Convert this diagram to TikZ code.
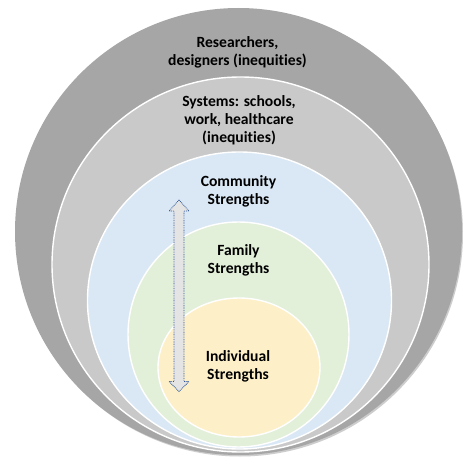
\documentclass[tikz,border=0pt]{standalone}
\usepackage{fontspec}
\setmainfont{Carlito}[Ligatures=NoCommon]
\definecolor{ringA}{HTML}{A6A6A6}
\definecolor{ringB}{HTML}{C9C9C9}
\definecolor{ringC}{HTML}{DAE8F5}
\definecolor{ringD}{HTML}{E2EFD9}
\definecolor{ringE}{HTML}{FDF0C9}
\definecolor{shadowc}{HTML}{CDCDCD}
\definecolor{arrowfill}{HTML}{E4E4E4}
\definecolor{arrowline}{HTML}{2F5597}
\begin{document}
\begin{tikzpicture}[x=1pt,y=-1pt,
  ring/.style={draw=white,line width=1.4pt},
  lbl/.style={align=center,font=\fontsize{15.6}{17.8}\selectfont\bfseries,text=black,inner sep=0pt},
  dblarrow/.style={fill=arrowfill,draw=arrowline,line width=0.8pt,dash pattern=on 0.8pt off 0.9pt,line join=miter}]
\useasboundingbox (0,0) rectangle (463,457);
\fill[white] (0,0) rectangle (463,457);
% shadow of outer circle
\fill[shadowc] (240,233.5) ellipse [x radius=223pt, y radius=223pt];
% rings
\fill[ringA] (238.5,231.5) ellipse [x radius=223.5pt, y radius=223.5pt];
\filldraw[ring,fill=ringB] (240.5,264.5) ellipse [x radius=188.5pt, y radius=187.5pt];
\filldraw[ring,fill=ringC] (239.5,300.5) ellipse [x radius=152pt, y radius=148.5pt];
\filldraw[ring,fill=ringD] (238.5,334.5) ellipse [x radius=110.5pt, y radius=112.5pt];
\filldraw[ring,fill=ringE] (239,367.5) ellipse [x radius=81pt, y radius=69.5pt];
% labels
\node[lbl] (researchers) at (237.5,52) {Researchers,\\designers (inequities)};
\node[lbl] (systems) at (239,120.5) {Systems: schools,\\work, healthcare\\(inequities)};
\node[lbl] (community) at (238.5,191) {Community\\Strengths};
\node[lbl] (family) at (238.5,260.5) {Family\\Strengths};
\node[lbl] (individual) at (238,366.5) {Individual\\Strengths};
% double arrow
\coordinate (tipT) at (179,200);
\coordinate (tipB) at (179,391.5);
\draw[dblarrow] (tipT) -- ++(10,11) -- ++(-5,0) |- ([xshift=5pt,yshift=10pt]tipB) -- ++(5,0) -- (tipB)
  -- ++(-10,-10) -- ++(5,0) |- ([xshift=-5pt,yshift=-11pt]tipT) -- ++(-5,0) -- cycle;
\end{tikzpicture}
\end{document}
